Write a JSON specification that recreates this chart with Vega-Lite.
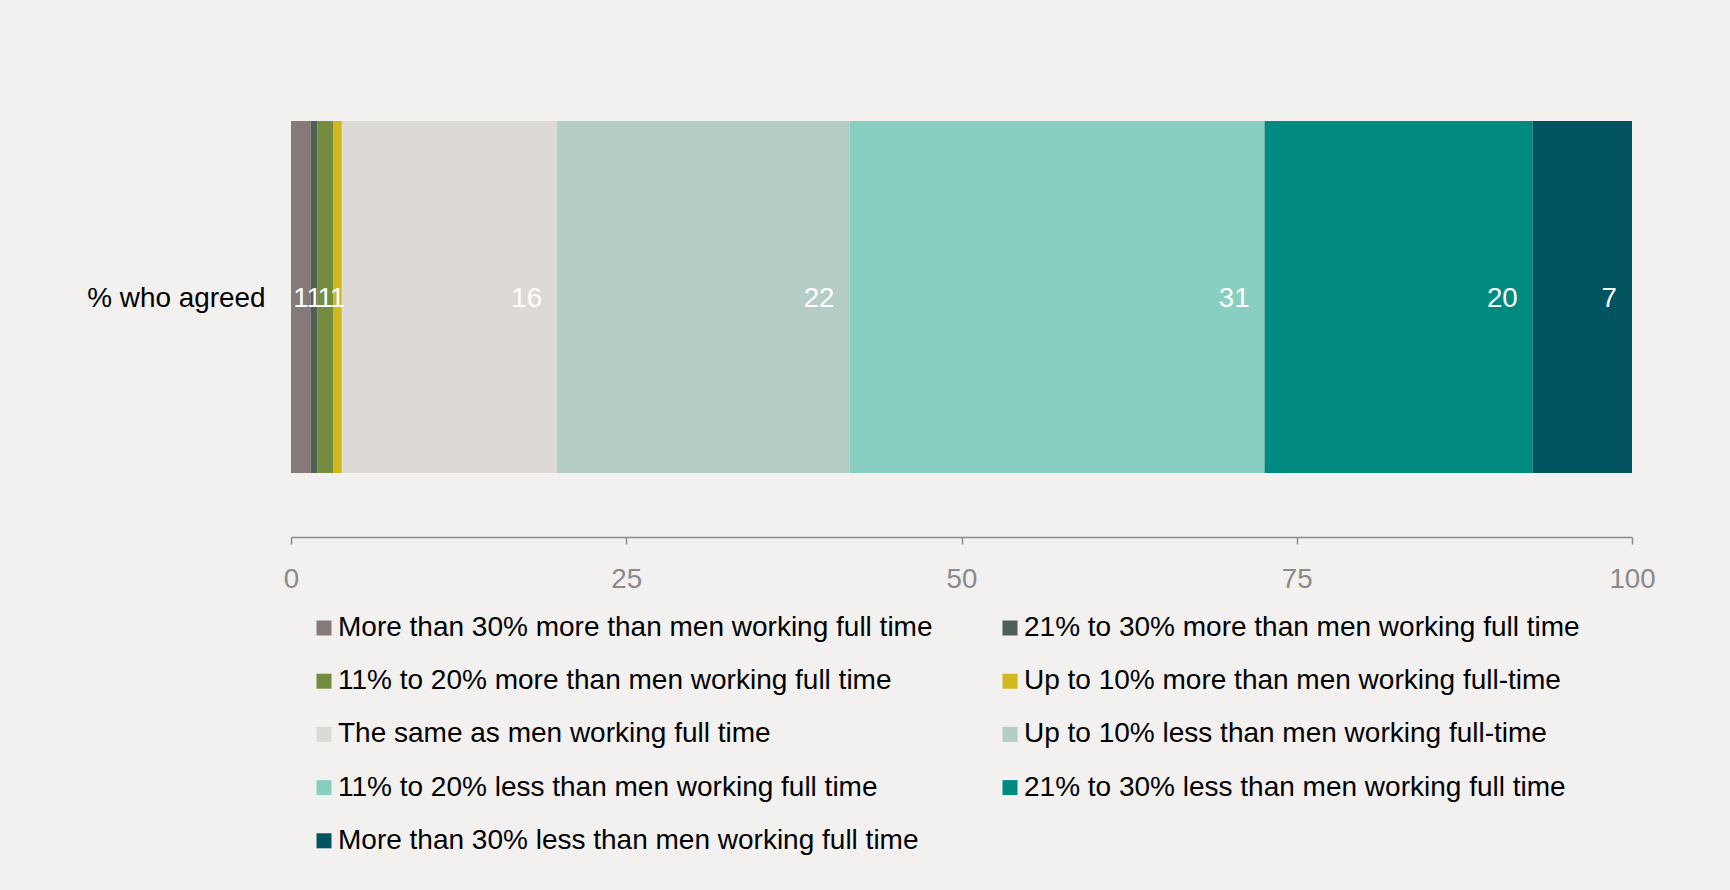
{
  "$schema": "https://vega.github.io/schema/vega-lite/v6.json",
  "autosize": {"type": "none"},
  "padding": {"left": 291, "top": 121, "right": 98, "bottom": 417},
  "width": 1341,
  "height": 352,
  "background": "#f2f1ef",
  "config": {
    "view": {"stroke": null},
    "font": "Liberation Sans",
    "text": {"font": "Liberation Sans"}
  },
  "data": {
    "values": [
      {"row": "% who agreed", "order": 1, "category": "More than 30% more than men working full time", "value": 1.48, "label": "1"},
      {"row": "% who agreed", "order": 2, "category": "21% to 30% more than men working full time", "value": 0.5, "label": "1"},
      {"row": "% who agreed", "order": 3, "category": "11% to 20% more than men working full time", "value": 1.15, "label": "1"},
      {"row": "% who agreed", "order": 4, "category": "Up to 10% more than men working full-time", "value": 0.66, "label": "1"},
      {"row": "% who agreed", "order": 5, "category": "The same as men working full time", "value": 16.05, "label": "16"},
      {"row": "% who agreed", "order": 6, "category": "Up to 10% less than men working full-time", "value": 21.81, "label": "22"},
      {"row": "% who agreed", "order": 7, "category": "11% to 20% less than men working full time", "value": 30.95, "label": "31"},
      {"row": "% who agreed", "order": 8, "category": "21% to 30% less than men working full time", "value": 20.0, "label": "20"},
      {"row": "% who agreed", "order": 9, "category": "More than 30% less than men working full time", "value": 7.4, "label": "7"}
    ]
  },
  "encoding": {
    "y": {
      "field": "row",
      "type": "nominal",
      "title": null,
      "scale": {"paddingInner": 0, "paddingOuter": 0},
      "axis": {
        "domain": false,
        "ticks": false,
        "tickSize": 0,
        "labelPadding": 26,
        "labelOffset": 2,
        "labelFontSize": 27.9,
        "labelColor": "#000000",
        "labelFont": "Liberation Sans",
        "labelLimit": 300
      }
    },
    "order": {"field": "order", "type": "quantitative"}
  },
  "layer": [
    {
      "mark": {"type": "bar"},
      "encoding": {
        "x": {
          "field": "value",
          "type": "quantitative",
          "stack": "zero",
          "title": null,
          "scale": {"domain": [0, 100], "nice": false},
          "axis": {
            "values": [0, 25, 50, 75, 100],
            "offset": 64,
            "grid": false,
            "domainColor": "#8c8c8c",
            "domainWidth": 1.5,
            "tickColor": "#8c8c8c",
            "tickWidth": 1.5,
            "tickSize": 7,
            "labelFlush": false,
            "labelPadding": 21,
            "labelFontSize": 27.7,
            "labelColor": "#8a8a8a",
            "labelFont": "Liberation Sans"
          }
        },
        "color": {
          "field": "category",
          "type": "nominal",
          "sort": [
            "More than 30% more than men working full time",
            "21% to 30% more than men working full time",
            "11% to 20% more than men working full time",
            "Up to 10% more than men working full-time",
            "The same as men working full time",
            "Up to 10% less than men working full-time",
            "11% to 20% less than men working full time",
            "21% to 30% less than men working full time",
            "More than 30% less than men working full time"
          ],
          "scale": {
            "domain": [
              "More than 30% more than men working full time",
              "21% to 30% more than men working full time",
              "11% to 20% more than men working full time",
              "Up to 10% more than men working full-time",
              "The same as men working full time",
              "Up to 10% less than men working full-time",
              "11% to 20% less than men working full time",
              "21% to 30% less than men working full time",
              "More than 30% less than men working full time"
            ],
            "range": ["#857a77", "#4f6157", "#738c3f", "#d1b81e", "#ddd9d5", "#b5cdc4", "#88cfc2", "#008a80", "#00535f"]
          },
          "legend": {
            "title": null,
            "orient": "none",
            "legendX": 19,
            "legendY": 493,
            "columns": 2,
            "direction": "horizontal",
            "symbolType": "square",
            "symbolSize": 225,
            "symbolStrokeWidth": 0,
            "symbolOpacity": 1,
            "labelFontSize": 28,
            "labelFont": "Liberation Sans",
            "labelColor": "#000000",
            "labelLimit": 900,
            "labelOffset": 0,
            "columnPadding": 63,
            "rowPadding": 25.2
          }
        }
      }
    },
    {
      "mark": {"type": "text", "color": "#ffffff", "fontSize": 27.7, "align": "right", "baseline": "middle", "dx": -15, "dy": 2},
      "encoding": {
        "x": {"field": "value", "type": "quantitative", "stack": "zero"},
        "text": {"field": "label"},
        "opacity": {"condition": {"test": "datum.value >= 5", "value": 1}, "value": 0}
      }
    },
    {
      "mark": {"type": "text", "color": "#ffffff", "fontSize": 27.7, "align": "center", "baseline": "middle", "dy": 2},
      "encoding": {
        "x": {"field": "value", "type": "quantitative", "stack": "zero", "bandPosition": 0.5},
        "text": {"field": "label"},
        "opacity": {"condition": {"test": "datum.value < 5", "value": 1}, "value": 0}
      }
    }
  ]
}
